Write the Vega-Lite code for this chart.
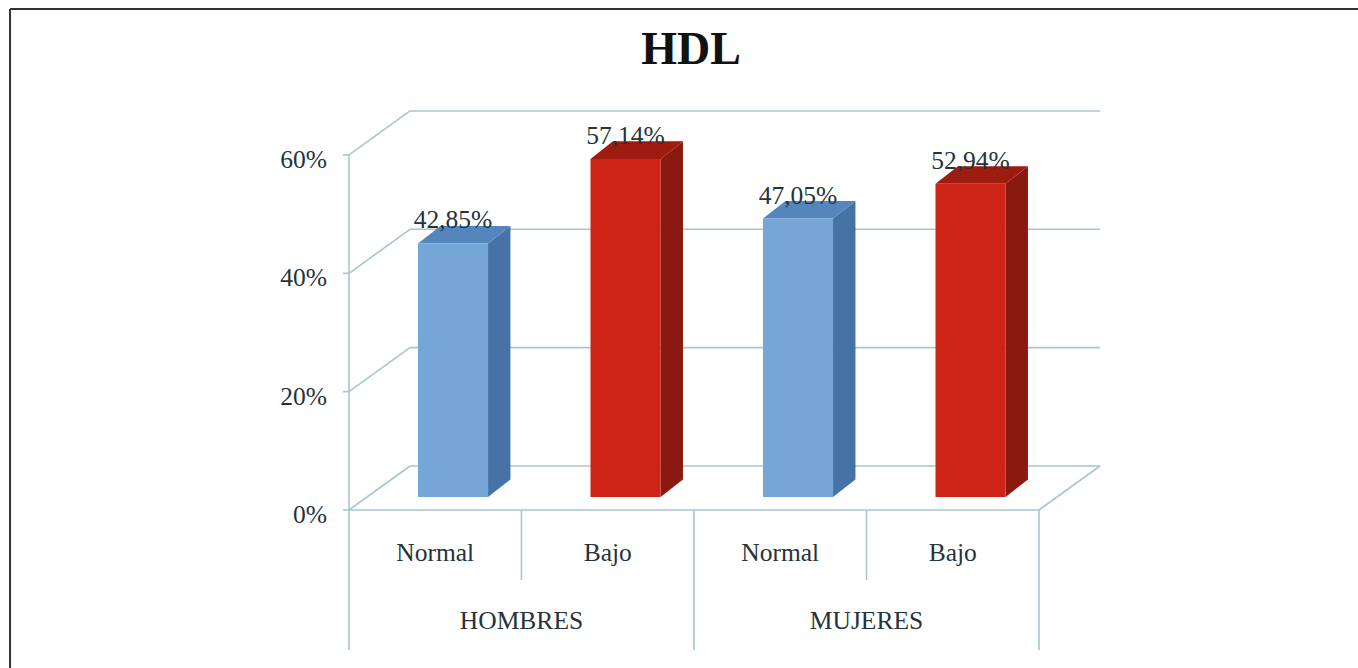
{
"$schema":"https://vega.github.io/schema/vega-lite/v6.json",
"width":1358,"height":668,"padding":0,"autosize":"none","background":"white",
"title":{"text":"HDL","font":"Liberation Serif","fontSize":46,"fontWeight":"bold","color":"#111111","anchor":"middle","frame":"group","baseline":"alphabetic","offset":-110,"dx":12},
"config":{"view":{"stroke":null},"text":{"font":"Liberation Serif","fontSize":25.5,"color":"#25333a"}},
"datasets":{
"bars":[
{"group":"HOMBRES","label":"Normal","pct":42.85,"pos":0},
{"group":"HOMBRES","label":"Bajo","pct":57.14,"pos":1},
{"group":"MUJERES","label":"Normal","pct":47.05,"pos":2},
{"group":"MUJERES","label":"Bajo","pct":52.94,"pos":3}],
"ticks":[{"tick":0},{"tick":20},{"tick":40},{"tick":60}],
"one":[{"part":"frame"}],
"dividers":[{"at":0,"kind":"group"},{"at":1,"kind":"cat"},{"at":2,"kind":"group"},{"at":3,"kind":"cat"},{"at":4,"kind":"group"}]
},
"data":{"name":"bars"},
"layer":[
{"data":{"name":"ticks"},"transform":[{"calculate":"-0.1275","as":"a"},{"calculate":"datum.tick + '%'","as":"txt"}],
 "mark":{"type":"text","align":"right","baseline":"middle","dy":5},
 "encoding":{"x":{"field":"a","type":"quantitative","axis":null,"scale":{"domain":[-2.02319,5.84928],"nice":false,"zero":false}},
 "y":{"field":"tick","type":"quantitative","axis":null,"scale":{"domain":[-26.70,86.19],"nice":false,"zero":false}},
 "text":{"field":"txt","type":"nominal"}}},
{"data":{"name":"ticks"},"transform":[{"calculate":"-0.035","as":"a"},{"calculate":"0","as":"a2"}],
 "mark":{"type":"rule","color":"#a9c5d0","strokeWidth":1.6},
 "encoding":{"x":{"field":"a","type":"quantitative","axis":null},"x2":{"field":"a2"},"y":{"field":"tick","type":"quantitative","axis":null}}},
{"data":{"name":"one"},"transform":[{"calculate":"-1.965","as":"a"},{"calculate":"84.67","as":"b"},{"calculate":"-26.7","as":"c"}],
 "mark":{"type":"rule","color":"#333333","strokeWidth":2},
 "encoding":{"x":{"field":"a","type":"quantitative","axis":null},"y":{"field":"b","type":"quantitative","axis":null},"y2":{"field":"c"}}},
{"data":{"name":"one"},"transform":[{"calculate":"-1.965","as":"a"},{"calculate":"5.84928","as":"a2"},{"calculate":"84.67","as":"b"}],
 "mark":{"type":"rule","color":"#333333","strokeWidth":2},
 "encoding":{"x":{"field":"a","type":"quantitative","axis":null},"x2":{"field":"a2"},"y":{"field":"b","type":"quantitative","axis":null}}},
{"data":{"name":"ticks"},"transform":[{"calculate":"datum.tick + 7.44","as":"back"},{"calculate":"0.3536","as":"a"},{"calculate":"4.3536","as":"a2"}],
 "mark":{"type":"rule","color":"#a9c5d0","strokeWidth":1.6},
 "encoding":{"x":{"field":"a","type":"quantitative","axis":null},"x2":{"field":"a2"},"y":{"field":"back","type":"quantitative","axis":null}}},
{"data":{"name":"ticks"},"transform":[{"fold":["c0","c1"],"as":["corner","unused"]},
  {"calculate":"datum.corner == 'c1' ? 0.3536 : 0","as":"px"},
  {"calculate":"datum.corner == 'c1' ? datum.tick + 7.44 : datum.tick","as":"py"}],
 "mark":{"type":"line","color":"#a9c5d0","strokeWidth":1.6},
 "encoding":{"x":{"field":"px","type":"quantitative","axis":null},"y":{"field":"py","type":"quantitative","axis":null},"detail":{"field":"tick","type":"nominal"}}},
{"data":{"name":"one"},"transform":[{"fold":["c0","c1"],"as":["corner","unused"]},
  {"calculate":"datum.corner == 'c1' ? 4.3536 : 4","as":"px"},
  {"calculate":"datum.corner == 'c1' ? 7.44 : 0","as":"py"}],
 "mark":{"type":"line","color":"#a9c5d0","strokeWidth":1.6},
 "encoding":{"x":{"field":"px","type":"quantitative","axis":null},"y":{"field":"py","type":"quantitative","axis":null}}},
{"data":{"name":"one"},"transform":[{"calculate":"0","as":"a"},{"calculate":"4","as":"a2"},{"calculate":"0","as":"b"}],
 "mark":{"type":"rule","color":"#a9c5d0","strokeWidth":1.6},
 "encoding":{"x":{"field":"a","type":"quantitative","axis":null},"x2":{"field":"a2"},"y":{"field":"b","type":"quantitative","axis":null}}},
{"data":{"name":"one"},"transform":[{"calculate":"0","as":"a"},{"calculate":"60","as":"b"},{"calculate":"0","as":"c"}],
 "mark":{"type":"rule","color":"#a9c5d0","strokeWidth":1.6},
 "encoding":{"x":{"field":"a","type":"quantitative","axis":null},"y":{"field":"b","type":"quantitative","axis":null},"y2":{"field":"c"}}},
{"data":{"name":"dividers"},"transform":[{"calculate":"datum.kind == 'group' ? -23.66 : -11.83","as":"end"},{"calculate":"0","as":"b"}],
 "mark":{"type":"rule","color":"#a9c5d0","strokeWidth":1.6},
 "encoding":{"x":{"field":"at","type":"quantitative","axis":null},"y":{"field":"b","type":"quantitative","axis":null},"y2":{"field":"end"}}},
{"transform":[{"calculate":"datum.pos + 0.806","as":"r"},{"calculate":"datum.pct + 2.2","as":"t"},{"calculate":"datum.label + ' lado'","as":"face"},
  {"fold":["c0","c1"],"as":["corner","unused"]},
  {"calculate":"datum.corner == 'c1' ? datum.r + 0.13 : datum.r","as":"px"},
  {"calculate":"datum.corner == 'c1' ? datum.t + 2.96 : datum.t","as":"up"},
  {"calculate":"datum.corner == 'c1' ? 5.16 : 2.2","as":"lo"}],
 "mark":{"type":"area","opacity":1},
 "encoding":{"x":{"field":"px","type":"quantitative","axis":null},"y":{"field":"up","type":"quantitative","axis":null},"y2":{"field":"lo"},"detail":{"field":"pos","type":"nominal"},
 "color":{"field":"face","type":"nominal","legend":null,"scale":{"domain":["Normal","Bajo","Normal lado","Bajo lado","Normal tope","Bajo tope"],"range":["#76a5d8","#ce2418","#4673a5","#8a1a10","#5585bd","#9e1b10"]}}}},
{"transform":[{"calculate":"datum.pos + 0.4","as":"l"},{"calculate":"datum.pos + 0.806","as":"r"},{"calculate":"datum.pct + 2.2","as":"t"},{"calculate":"datum.label + ' tope'","as":"face"},
  {"fold":["c0","c1","c2","c3"],"as":["corner","unused"]},
  {"calculate":"datum.corner == 'c0' ? datum.l : datum.corner == 'c1' ? datum.l + 0.13 : datum.corner == 'c2' ? datum.r : datum.r + 0.13","as":"px"},
  {"calculate":"datum.corner == 'c0' ? datum.t : datum.t + 2.96","as":"up"},
  {"calculate":"datum.corner == 'c3' ? datum.t + 2.96 : datum.t","as":"lo"}],
 "mark":{"type":"area","opacity":1},
 "encoding":{"x":{"field":"px","type":"quantitative","axis":null},"y":{"field":"up","type":"quantitative","axis":null},"y2":{"field":"lo"},"detail":{"field":"pos","type":"nominal"},
 "color":{"field":"face","type":"nominal","legend":null}}},
{"transform":[{"calculate":"datum.pos + 0.4","as":"l"},{"calculate":"datum.pos + 0.806","as":"r"},{"calculate":"datum.pct + 2.2","as":"t"},{"calculate":"2.2","as":"b"}],
 "mark":{"type":"bar","opacity":1},
 "encoding":{"x":{"field":"l","type":"quantitative","axis":null},"x2":{"field":"r"},"y":{"field":"t","type":"quantitative","axis":null},"y2":{"field":"b"},
 "color":{"field":"label","type":"nominal","legend":null}}},
{"transform":[{"calculate":"datum.pos + 0.603","as":"c"},{"calculate":"datum.pct + 2.2 + 2.54","as":"t"},{"calculate":"replace(format(datum.pct,'.2f'),'.',',') + '%'","as":"txt"}],
 "mark":{"type":"text","baseline":"alphabetic","align":"center"},
 "encoding":{"x":{"field":"c","type":"quantitative","axis":null},"y":{"field":"t","type":"quantitative","axis":null},"text":{"field":"txt","type":"nominal"}}},
{"transform":[{"calculate":"datum.pos + 0.5","as":"c"},{"calculate":"-7.27","as":"t"}],
 "mark":{"type":"text","baseline":"middle","align":"center"},
 "encoding":{"x":{"field":"c","type":"quantitative","axis":null},"y":{"field":"t","type":"quantitative","axis":null},"text":{"field":"label","type":"nominal"}}},
{"transform":[{"aggregate":[{"op":"mean","field":"pos","as":"m"}],"groupby":["group"]},{"calculate":"datum.m + 0.5","as":"c"},{"calculate":"-18.76","as":"t"}],
 "mark":{"type":"text","baseline":"middle","align":"center"},
 "encoding":{"x":{"field":"c","type":"quantitative","axis":null},"y":{"field":"t","type":"quantitative","axis":null},"text":{"field":"group","type":"nominal"}}}
]
}
